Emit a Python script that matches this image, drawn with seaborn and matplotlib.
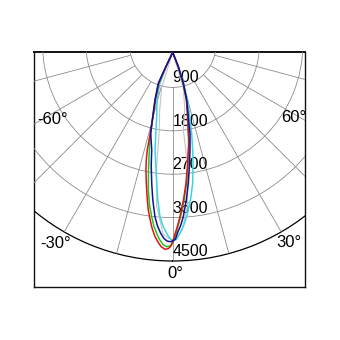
import numpy as np
import pandas as pd
import matplotlib
matplotlib.use("Agg")
import matplotlib.pyplot as plt
import seaborn as sns

# ---------------- data ----------------
ring_values = [900, 1800, 2700, 3600, 4500]
ring_labels = ["900", "1800", "2700", "3600", "4500"]
angle_labels = ["-60°", "-30°", "0°", "30°", "60°"]
radial_grid_deg = [-75, -60, -45, -30, -15, 0, 15, 30, 45, 60, 75]

gamma_red = [-26.5, -25.0, -24.3, -20.0, -17.0, -15.5, -14.6, -13.77, -12.8, -11.72, -10.7,
             -9.76, -8.8, -7.87, -6.87, -6.42, -5.48, -4.43, -3.45, -2.24, -1.23, -0.5,
             0.09, 0.73, 1.58, 2.54, 4.18, 5.8, 7.48, 9.07, 10.53, 11.0, 13.0, 16.0,
             18.7, 21.0, 22.5]
cd_red = [0, 330, 700, 1050, 1390, 1740, 2093, 2300, 2503, 2705, 2906,
          3108, 3309, 3469, 3643, 3709, 3841, 3946, 4035, 4089, 4070, 4017,
          3913, 3769, 3604, 3413, 3071, 2731, 2357, 2052, 1850, 1700, 1370, 1030,
          680, 320, 0]

gamma_green = [-26.7, -25.2, -24.6, -20.2, -17.1, -15.3, -13.47, -11.62, -10.05, -8.64,
               -7.28, -6.21, -5.05, -4.03, -2.89, -1.77, -0.8, -0.06, 0.72, 1.56, 2.72,
               4.37, 6.0, 7.73, 9.3, 11.0, 13.2, 16.2, 18.8, 21.1, 22.5]
cd_green = [0, 330, 705, 1052, 1395, 1740, 2084, 2492, 2900, 3203,
            3437, 3623, 3768, 3892, 3991, 4034, 4017, 3955, 3810, 3645, 3413,
            3075, 2740, 2359, 2055, 1705, 1372, 1030, 680, 320, 0]

gamma_blue = [-27.0, -25.5, -24.9, -20.4, -17.25, -15.2, -12.13, -10.8, -9.1, -7.67,
              -6.15, -5.0, -3.79, -2.68, -1.73, -0.8, 0.09, 0.86, 1.46, 2.57, 3.69,
              5.26, 6.8, 8.48, 10.04, 12.06, 13.6, 16.4, 18.9, 21.25, 22.5]
cd_blue = [0, 330, 709, 1055, 1399, 1740, 2072, 2379, 2752, 3091,
           3430, 3616, 3762, 3866, 3915, 3928, 3913, 3872, 3755, 3606, 3416,
           3076, 2735, 2363, 2058, 1718, 1374, 1031, 680, 320, 0]

gamma_cyan = [-26.5, -24.5, -22.3, -18.2, -13.95, -11.83, -10.2, -8.53, -6.96, -5.76,
              -4.42, -3.2, -1.9, -0.99, 0.18, 1.16, 2.31, 3.56, 4.87, 6.87, 8.68,
              10.21, 11.57, 13.2, 14.8, 17.2, 19.6, 22.0, 23.2]
cd_cyan = [0, 330, 720, 1041, 1376, 1710, 2062, 2364, 2737, 3079,
           3420, 3608, 3756, 3852, 3907, 3883, 3757, 3609, 3422, 3085, 2748,
           2375, 2068, 1720, 1380, 1040, 690, 330, 0]

gamma_grey = [-17.6, -17.3, -12.5, -9.8, -8.0, -6.0, -3.0, 0.0, 3.0, 5.5, 7.5, 7.8, 12.0, 16.7, 17.0]
cd_grey = [0, 770, 1250, 1635, 2400, 3200, 3780, 3910, 3700, 3200, 2400, 1627, 1200, 770, 0]

curve_names = ["grey", "cyan", "green", "red", "blue"]
curve_gammas = [gamma_grey, gamma_cyan, gamma_green, gamma_red, gamma_blue]
curve_cds = [cd_grey, cd_cyan, cd_green, cd_red, cd_blue]
palette = {"grey": "#c4c4c4", "cyan": "#3ad6e0", "green": "#1ec81e",
           "red": "#e01414", "blue": "#12129a"}

rows = []
for name, g, c in zip(curve_names, curve_gammas, curve_cds):
    for gi, ci in zip(g, c):
        rows.append({"curve": name, "theta": np.deg2rad(gi), "cd": ci})
df = pd.DataFrame(rows)

# ---------------- layout ----------------
plt.rcParams["font.family"] = ["Liberation Sans", "DejaVu Sans"]
W_PX = 340.0
fig = plt.figure(figsize=(3.4, 3.4), dpi=100)
fig.patch.set_facecolor("white")

box_l, box_r, box_t, box_b = 34.3, 305.3, 51.7, 286.7
ax_box = fig.add_axes([box_l / W_PX, (W_PX - box_b) / W_PX,
                       (box_r - box_l) / W_PX, (box_b - box_t) / W_PX])
ax_box.set_xticks([])
ax_box.set_yticks([])
ax_box.set_facecolor("white")
for sp in ax_box.spines.values():
    sp.set_color("#111111")
    sp.set_linewidth(1.0)
ax_box.spines["top"].set_linewidth(1.4)
clip = ax_box.patch

RMAX = 5000
rad_px = 241.1
cx = 172.7
grid_cy = 44.0
curve_cy = 52.3


def polar_axes(cy):
    a = fig.add_axes([(cx - rad_px) / W_PX, (W_PX - (cy + rad_px)) / W_PX,
                      2 * rad_px / W_PX, 2 * rad_px / W_PX], projection="polar")
    a.set_theta_zero_location("S")
    a.set_ylim(0, RMAX)
    a.patch.set_alpha(0)
    a.spines["polar"].set_visible(False)
    a.set_xticks([])
    a.tick_params(length=0)
    return a


ax_g = polar_axes(grid_cy)
ax_g.set_yticks(ring_values)
ax_g.set_yticklabels([])
ax_g.yaxis.grid(True, color="#8c8c8c", linewidth=0.6)
gls = ax_g.yaxis.get_gridlines()
for gl in gls:
    gl.set_clip_path(clip)
gls[-1].set_color("black")
gls[-1].set_linewidth(0.9)
vl = ax_g.vlines(np.deg2rad(radial_grid_deg), ring_values[0], ring_values[-1],
                 colors="#8c8c8c", linewidth=0.6)
vl.set_clip_path(clip)

for v, lab in zip(ring_values, ring_labels):
    ax_g.text(0, v - 195, lab, ha="left", va="center", fontsize=11.5, color="black")

angle_label_pos = [(-58.0, 2950), (-30.4, 4800), (0.6, 4770), (30.3, 4770), (58.6, 2930)]
for lab, (th, rr) in zip(angle_labels, angle_label_pos):
    ax_g.text(np.deg2rad(th), rr, lab, ha="center", va="center", fontsize=12, color="black")

ax_c = polar_axes(curve_cy)
ax_c.set_yticks([])
ax_c.grid(False)
sns.lineplot(data=df, x="theta", y="cd", hue="curve", hue_order=curve_names,
             palette=palette, sort=False, estimator=None, legend=False,
             linewidth=1.1, ax=ax_c)
ax_c.set_xlabel("")
ax_c.set_ylabel("")
for ln in ax_c.get_lines():
    ln.set_clip_path(clip)
ax_c.get_lines()[0].set_linewidth(0.8)

fig.savefig("out.png", dpi=100)
